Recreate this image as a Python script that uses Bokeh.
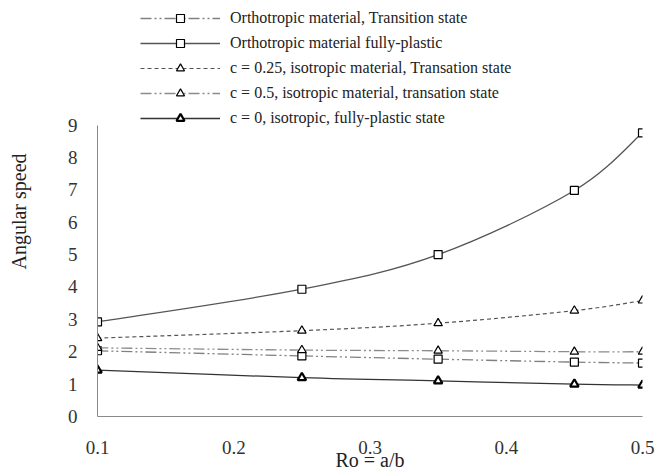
from bokeh.plotting import figure
from bokeh.models import (ColumnDataSource, Range1d, FixedTicker, Legend, LegendItem)
from bokeh.embed import file_html
from bokeh.resources import INLINE

# ---- data ----
ro = [0.1, 0.25, 0.35, 0.45, 0.5]
ortho_transition = [2.03, 1.87, 1.77, 1.68, 1.65]
ortho_plastic = [2.92, 3.93, 5.00, 6.98, 8.76]
iso_c025_transition = [2.42, 2.65, 2.88, 3.27, 3.58]
iso_c05_transition = [2.12, 2.05, 2.03, 2.00, 2.00]
iso_c0_plastic = [1.43, 1.20, 1.10, 1.00, 0.97]

labels = [
    "Orthotropic material, Transition state",
    "Orthotropic material fully-plastic",
    "c = 0.25, isotropic material, Transation state",
    "c = 0.5, isotropic material, transation state",
    "c = 0, isotropic, fully-plastic state",
]
x_ticks = [0.1, 0.2, 0.3, 0.4, 0.5]
y_ticks = list(range(0, 10))

FONT = "Liberation Serif"

# layout geometry (pixels): frame spans TOP..BOTTOM; the 0..9 axis occupies AXIS_TOP..BOTTOM
W, H = 657, 473
TOP, AXIS_TOP, BOTTOM = 6, 126, 421
y_lo, y_hi = y_ticks[0], y_ticks[-1]
y_frame_top = y_lo + (y_hi - y_lo) * (BOTTOM - TOP) / (BOTTOM - AXIS_TOP)

p = figure(width=W, height=H, output_backend="svg", toolbar_location=None,
           x_range=Range1d(x_ticks[0], x_ticks[-1]), y_range=Range1d(y_lo, y_frame_top),
           min_border_left=97, min_border_right=15, min_border_top=TOP,
           min_border_bottom=H - BOTTOM)
p.outline_line_color = None
p.grid.visible = False
p.background_fill_color = "white"


def smooth_segments(xs, ys, k=1.0 / 6.0):
    """Catmull-Rom style Bezier control points derived from the data."""
    n = len(xs)
    x0, y0, x1, y1, cx0, cy0, cx1, cy1 = [], [], [], [], [], [], [], []
    for i in range(n - 1):
        pxm = xs[i - 1] if i > 0 else xs[i]
        pym = ys[i - 1] if i > 0 else ys[i]
        pxp = xs[i + 2] if i + 2 < n else xs[i + 1]
        pyp = ys[i + 2] if i + 2 < n else ys[i + 1]
        x0.append(xs[i]); y0.append(ys[i])
        x1.append(xs[i + 1]); y1.append(ys[i + 1])
        cx0.append(xs[i] + (xs[i + 1] - pxm) * k)
        cy0.append(ys[i] + (ys[i + 1] - pym) * k)
        cx1.append(xs[i + 1] - (pxp - xs[i]) * k)
        cy1.append(ys[i + 1] - (pyp - ys[i]) * k)
    return dict(x0=x0, y0=y0, x1=x1, y1=y1, cx0=cx0, cy0=cy0, cx1=cx1, cy1=cy1)


series = [
    (ortho_transition, "#808080", "11 3 2 3 2 3", "square", 1.3, "white", 1.2),
    (ortho_plastic, "#555555", None, "square", 1.3, "white", 1.2),
    (iso_c025_transition, "#555555", "4 3", "triangle", 1.2, "white", 1.2),
    (iso_c05_transition, "#8c8c8c", "11 3 2 3 2 3", "triangle", 1.3, "white", 1.2),
    (iso_c0_plastic, "#333333", None, "triangle", 1.3, "white", 2.2),
]

nan = float("nan")
items = []
for (ys, color, dash, marker, lw, fill, mlw), lab in zip(series, labels):
    seg = ColumnDataSource(smooth_segments(ro, ys))
    kw = dict(line_color=color, line_width=lw)
    if dash:
        kw["line_dash"] = dash
    p.bezier(x0="x0", y0="y0", x1="x1", y1="y1", cx0="cx0", cy0="cy0",
             cx1="cx1", cy1="cy1", source=seg, **kw)
    # legend-only line renderer (no visible data)
    dummy = p.line(x=[nan, nan], y=[nan, nan], **kw)
    sc = p.scatter(x=ro, y=ys, marker=marker, size=8 if marker == "square" else 8.5,
                   fill_color=fill, line_color="black", line_width=mlw)
    items.append(LegendItem(label=lab, renderers=[dummy, sc]))

legend = Legend(items=items, location=(43, 288), orientation="vertical",
                glyph_width=80, glyph_height=20, label_height=20, spacing=5,
                padding=0, margin=0, label_standoff=10,
                label_text_font=FONT, label_text_font_size="16px",
                label_text_color="#222222",
                border_line_alpha=0, background_fill_alpha=0)
p.add_layout(legend, "center")

for ax in (p.xaxis[0], p.yaxis[0]):
    ax.major_tick_line_color = None
    ax.minor_tick_line_color = None
    ax.axis_line_color = "#8a8a8a"
    ax.major_label_text_font = FONT
    ax.major_label_text_font_size = "19px"
    ax.major_label_text_color = "#333333"
    ax.axis_label_text_font = FONT
    ax.axis_label_text_font_size = "20px"
    ax.axis_label_text_font_style = "normal"
    ax.axis_label_text_color = "#222222"

p.yaxis.bounds = (y_lo, y_hi)
p.xaxis.ticker = FixedTicker(ticks=x_ticks)
p.yaxis.ticker = FixedTicker(ticks=y_ticks)
p.xaxis.major_label_standoff = 18
p.yaxis.major_label_standoff = 14
p.xaxis.axis_label = "Ro = a/b"
p.yaxis.axis_label = "Angular speed"
p.xaxis.axis_label_standoff = -8
p.yaxis.axis_label_standoff = 35

open("out.html", "w").write(file_html(p, INLINE))
